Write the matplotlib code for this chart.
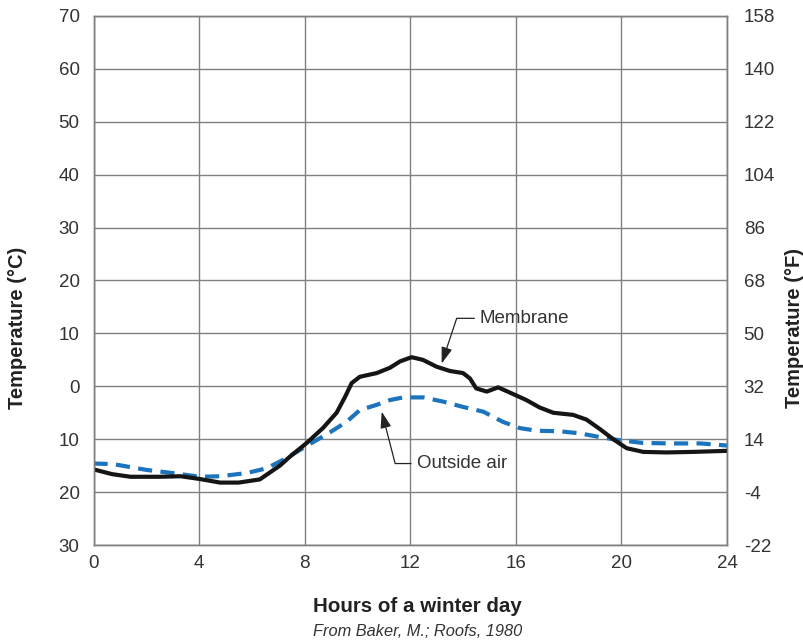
import numpy as np
import matplotlib
matplotlib.use("Agg")
import matplotlib.pyplot as plt

plt.rcParams['font.family'] = ['Liberation Sans', 'DejaVu Sans']
plt.rcParams['axes.unicode_minus'] = False

# ---- data ----
membrane_hours = [0.0, 0.7, 1.4, 2.5, 3.3, 4.0, 4.8, 5.5, 6.3, 7.06, 7.44, 8.08, 8.69,
                  9.21, 9.53, 9.78, 10.09, 10.73, 11.23, 11.61, 12.05, 12.48, 13.0,
                  13.5, 14.0, 14.26, 14.5, 14.9, 15.33, 15.78, 16.4, 16.9, 17.42,
                  18.17, 18.68, 19.19, 19.69, 20.2, 20.83, 21.7, 22.7, 24.0]
membrane_temp = [-15.7, -16.6, -17.1, -17.1, -17.0, -17.5, -18.2, -18.2, -17.6, -15.0,
                 -13.3, -10.7, -7.9, -5.0, -2.0, 0.6, 1.8, 2.5, 3.5, 4.7, 5.5, 5.0,
                 3.7, 2.9, 2.5, 1.5, -0.4, -1.0, -0.2, -1.2, -2.6, -4.0, -5.0, -5.4,
                 -6.3, -8.1, -10.0, -11.7, -12.4, -12.5, -12.4, -12.2]

air_hours = [0.0, 0.74, 2.0, 3.0, 4.03, 4.8, 5.8, 6.56, 7.3, 8.2, 8.96, 9.59, 10.09,
             10.73, 11.23, 11.73, 12.5, 13.25, 14.0, 14.77, 15.5, 16.15, 16.8, 17.67,
             18.43, 19.19, 19.94, 20.8, 21.8, 23.0, 24.0]
air_temp = [-14.6, -14.7, -15.8, -16.4, -17.1, -17.0, -16.4, -15.5, -13.6, -10.9, -8.7,
            -6.7, -4.5, -3.5, -2.6, -2.1, -2.1, -2.9, -3.9, -4.8, -6.7, -7.9, -8.4,
            -8.5, -8.9, -9.6, -10.2, -10.7, -10.8, -10.8, -11.2]

hour_ticks = [0, 4, 8, 12, 16, 20, 24]
c_ticks = [-30, -20, -10, 0, 10, 20, 30, 40, 50, 60, 70]
c_tick_labels = ['30', '20', '10', '0', '10', '20', '30', '40', '50', '60', '70']
f_ticks = [-22, -4, 14, 32, 50, 68, 86, 104, 122, 140, 158]

txt = '#333333'
gridc = '#808080'

fig = plt.figure(figsize=(8.04, 6.44), dpi=100)
ax = fig.add_axes([0.1163, 0.1537, 0.9042 - 0.1163, 0.9752 - 0.1537])

ax.plot(air_hours, air_temp, color='#1c75bc', lw=3.0, linestyle=(0, (3.4, 2.0)),
        dash_capstyle='butt', zorder=3)
ax.plot(membrane_hours, membrane_temp, color='#151515', lw=3.0,
        solid_capstyle='round', solid_joinstyle='round', zorder=4)

ax.set_xlim(0, 24)
ax.set_ylim(-30, 70)
ax.set_xticks(hour_ticks)
ax.set_yticks(c_ticks)
ax.set_yticklabels(c_tick_labels)
ax.grid(True, color=gridc, lw=1.0)
ax.set_axisbelow(True)
ax.tick_params(axis='both', length=0, labelsize=13.5, labelcolor=txt)
ax.tick_params(axis='x', pad=7)
ax.tick_params(axis='y', pad=10)
for s in ax.spines.values():
    s.set_color(gridc)
    s.set_linewidth(1.0)

ax2 = ax.twinx()
ax2.set_ylim(-22, 158)
ax2.set_yticks(f_ticks)
ax2.tick_params(axis='y', length=0, labelsize=13.5, labelcolor=txt, pad=12)
for s in ax2.spines.values():
    s.set_color(gridc)
    s.set_linewidth(1.0)

# annotations
arrow = dict(arrowstyle='-|>,head_length=0.9,head_width=0.3', mutation_scale=11,
             color='#222222', lw=0.9, shrinkB=0)
ax.annotate('Membrane', xy=(13.19, 4.3), xytext=(14.64, 12.85), ha='left', va='center',
            fontsize=13.5, color=txt, zorder=5,
            arrowprops=dict(arrow, connectionstyle='angle,angleA=0,angleB=71.6,rad=0'))
ax.annotate('Outside air', xy=(10.92, -4.8), xytext=(12.24, -14.6), ha='left', va='center',
            fontsize=13.5, color=txt, zorder=5,
            arrowprops=dict(arrow, connectionstyle='angle,angleA=0,angleB=-75.5,rad=0'))

fig.text(0.022, 0.491, 'Temperature (°C)', rotation=90, ha='center', va='center',
         fontsize=14.5, fontweight='bold', color='#222222')
fig.text(0.988, 0.491, 'Temperature (°F)', rotation=90, ha='center', va='center',
         fontsize=14.5, fontweight='bold', color='#222222')
fig.text(0.519, 0.059, 'Hours of a winter day', ha='center', va='center',
         fontsize=14.8, fontweight='bold', color='#222222')
fig.text(0.519, 0.019, 'From Baker, M.; Roofs, 1980', ha='center', va='center',
         fontsize=11.8, fontstyle='italic', color='#333333')

fig.savefig('out.png', dpi=100)
